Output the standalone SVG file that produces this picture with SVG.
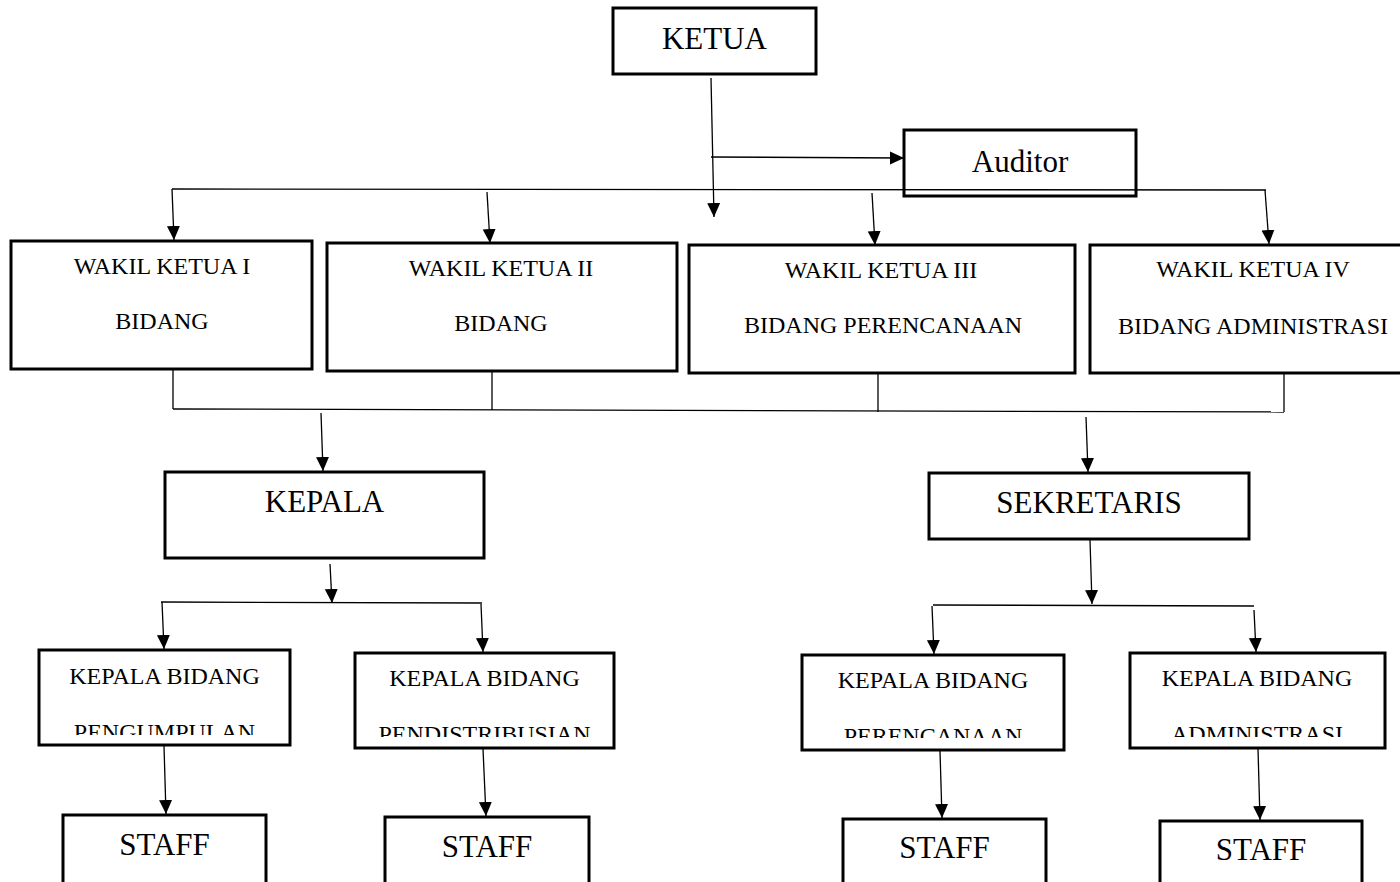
<svg xmlns="http://www.w3.org/2000/svg" width="1400" height="882" viewBox="0 0 1400 882">
<style>
.box{fill:#fff;stroke:#000;stroke-width:3}
.ln{fill:none;stroke:#000;stroke-width:1.3}
.ar{fill:none;stroke:#000;stroke-width:1.3;marker-end:url(#ah)}
.big{font-family:"Liberation Serif","Times New Roman",serif;font-size:31px;text-anchor:middle;fill:#000}
.sm{font-family:"Liberation Serif","Times New Roman",serif;font-size:24px;text-anchor:middle;fill:#000}
</style>
<defs>
<marker id="ah" markerUnits="userSpaceOnUse" markerWidth="15" markerHeight="14" refX="14" refY="6.5" orient="auto" viewBox="0 0 15 14">
<path d="M0,0 L14,6.5 L0,13 z" fill="#000"/>
</marker>
<clipPath id="c1"><rect x="39" y="650" width="251" height="85"/></clipPath>
<clipPath id="c2"><rect x="355" y="653" width="259" height="84"/></clipPath>
<clipPath id="c3"><rect x="802" y="655" width="262" height="83"/></clipPath>
<clipPath id="c4"><rect x="1130" y="653" width="255" height="84"/></clipPath>
</defs>
<rect width="1400" height="882" fill="#fff"/>

<g id="ketua"><rect class="box" x="613" y="8" width="203" height="66"/><text class="big" x="714.5" y="49">KETUA</text></g>
<g id="auditor"><rect class="box" x="904" y="130" width="232" height="66"/><text class="big" x="1020" y="172">Auditor</text></g>

<g id="wk1"><rect class="box" x="11" y="241" width="301" height="128"/><text class="sm" x="162" y="274">WAKIL KETUA I</text><text class="sm" x="162" y="329">BIDANG</text></g>
<g id="wk2"><rect class="box" x="327" y="243" width="350" height="128"/><text class="sm" x="501" y="276">WAKIL KETUA II</text><text class="sm" x="501" y="331">BIDANG</text></g>
<g id="wk3"><rect class="box" x="689" y="245" width="386" height="128"/><text class="sm" x="881" y="278">WAKIL KETUA III</text><text class="sm" x="883" y="333">BIDANG PERENCANAAN</text></g>
<g id="wk4"><rect class="box" x="1090" y="245" width="326" height="128"/><text class="sm" x="1253" y="277">WAKIL KETUA IV</text><text class="sm" x="1253" y="334">BIDANG ADMINISTRASI</text></g>

<g id="kepala"><rect class="box" x="165" y="472" width="319" height="86"/><text class="big" x="324.5" y="512">KEPALA</text></g>
<g id="sekretaris"><rect class="box" x="929" y="473" width="320" height="66"/><text class="big" x="1089" y="513">SEKRETARIS</text></g>

<g id="kb1"><rect class="box" x="39" y="650" width="251" height="95"/><text class="sm" x="164.5" y="684">KEPALA BIDANG</text><text class="sm" x="164.5" y="740" clip-path="url(#c1)">PENGUMPULAN</text></g>
<g id="kb2"><rect class="box" x="355" y="653" width="259" height="95"/><text class="sm" x="484.5" y="686">KEPALA BIDANG</text><text class="sm" x="484.5" y="742" clip-path="url(#c2)">PENDISTRIBUSIAN</text></g>
<g id="kb3"><rect class="box" x="802" y="655" width="262" height="95"/><text class="sm" x="933" y="688">KEPALA BIDANG</text><text class="sm" x="933" y="744" clip-path="url(#c3)">PERENCANAAN</text></g>
<g id="kb4"><rect class="box" x="1130" y="653" width="255" height="95"/><text class="sm" x="1257" y="686">KEPALA BIDANG</text><text class="sm" x="1257" y="742" clip-path="url(#c4)">ADMINISTRASI</text></g>

<g id="staff1"><rect class="box" x="63" y="815" width="203" height="90"/><text class="big" x="164.5" y="855">STAFF</text></g>
<g id="staff2"><rect class="box" x="385" y="817" width="204" height="90"/><text class="big" x="487" y="857">STAFF</text></g>
<g id="staff3"><rect class="box" x="843" y="819" width="203" height="90"/><text class="big" x="944.5" y="858">STAFF</text></g>
<g id="staff4"><rect class="box" x="1160" y="821" width="202" height="90"/><text class="big" x="1261" y="860">STAFF</text></g>

<g id="connectors">
<line class="ar" x1="711" y1="78" x2="714" y2="217"/>
<line class="ar" x1="711" y1="157" x2="904" y2="158"/>
<line class="ln" x1="172" y1="189" x2="1266" y2="190"/>
<line class="ar" x1="172" y1="189" x2="174" y2="240"/>
<line class="ar" x1="487" y1="192" x2="490" y2="243"/>
<line class="ar" x1="872" y1="193" x2="875" y2="245"/>
<line class="ar" x1="1265" y1="190" x2="1269" y2="244"/>
<line class="ln" x1="173" y1="369" x2="173" y2="409"/>
<line class="ln" x1="492" y1="371" x2="492" y2="410"/>
<line class="ln" x1="878" y1="373" x2="878" y2="412"/>
<line class="ln" x1="1284" y1="373" x2="1284" y2="412"/>
<line class="ln" x1="173" y1="409" x2="1284" y2="412"/>
<line class="ar" x1="321" y1="413" x2="323" y2="471"/>
<line class="ar" x1="1086" y1="417" x2="1088" y2="472"/>
<line class="ar" x1="330" y1="564" x2="332" y2="603"/>
<line class="ln" x1="161" y1="602" x2="482" y2="603"/>
<line class="ar" x1="162" y1="602" x2="164" y2="649"/>
<line class="ar" x1="481" y1="604" x2="483" y2="652"/>
<line class="ar" x1="1090" y1="540" x2="1092" y2="604"/>
<line class="ln" x1="933" y1="605" x2="1254" y2="606"/>
<line class="ar" x1="932" y1="606" x2="934" y2="654"/>
<line class="ar" x1="1254" y1="610" x2="1256" y2="652"/>
<line class="ar" x1="164" y1="746" x2="166" y2="814"/>
<line class="ar" x1="483" y1="749" x2="486" y2="816"/>
<line class="ar" x1="940" y1="751" x2="942" y2="818"/>
<line class="ar" x1="1258" y1="749" x2="1260" y2="820"/>
</g>
</svg>
